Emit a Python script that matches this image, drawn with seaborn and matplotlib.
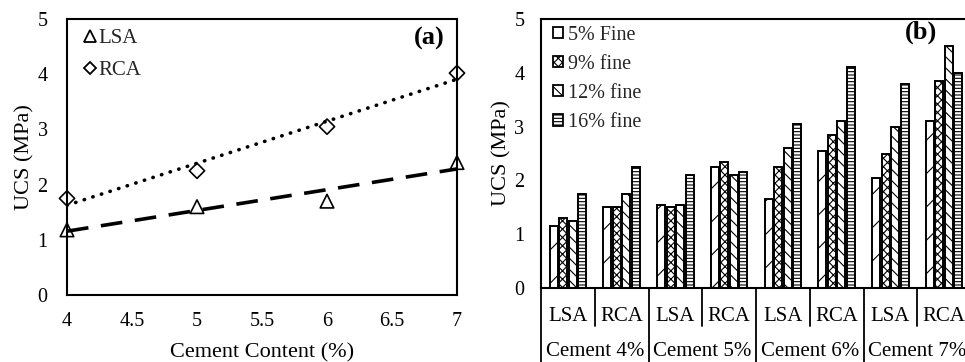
import numpy as np
import pandas as pd
import matplotlib
matplotlib.use("Agg")
import matplotlib.pyplot as plt
import seaborn as sns
from matplotlib.patches import Patch
from matplotlib.lines import Line2D
import matplotlib.transforms as mtransforms

# ---------------- data ----------------
cement_a = [4, 5, 6, 7]
lsa_ucs = [1.18, 1.60, 1.70, 2.40]
rca_ucs = [1.75, 2.25, 3.05, 4.02]

subgroups = ["LSA", "RCA", "LSA", "RCA", "LSA", "RCA", "LSA", "RCA"]
cement_groups = ["Cement 4%", "Cement 5%", "Cement 6%", "Cement 7%"]
fine_labels = ["5% Fine", "9% fine", "12% fine", "16% fine"]
fine5 = [1.15, 1.50, 1.55, 2.25, 1.65, 2.55, 2.05, 3.10]
fine9 = [1.30, 1.50, 1.50, 2.35, 2.25, 2.85, 2.50, 3.85]
fine12 = [1.25, 1.75, 1.55, 2.10, 2.60, 3.10, 3.00, 4.50]
fine16 = [1.75, 2.25, 2.10, 2.15, 3.05, 4.10, 3.80, 4.00]

sns.set_theme(style="white")
plt.rcParams["font.family"] = ["Liberation Serif", "DejaVu Serif"]
plt.rcParams["hatch.linewidth"] = 0.8

fig = plt.figure(figsize=(9.65, 3.62), dpi=100)
W, H = 965, 362

def rect(x0, y0, x1, y1):
    return [x0 / W, 1 - y1 / H, (x1 - x0) / W, (y1 - y0) / H]

# ---------------- panel (a) ----------------
axa = fig.add_axes(rect(67, 19, 457, 295))
xs = np.array(cement_a, dtype=float)
xx = np.array([4.0, 7.0])
for vals, ls, cap in [(lsa_ucs, (0, (6, 3.5)), "butt"),
                      (rca_ucs, (0, (0.1, 2.4)), "round")]:
    b, a = np.polyfit(xs, np.array(vals), 1)
    axa.plot(xx, a + b * xx, color="black", lw=2.6, ls=ls,
             dash_capstyle=cap, solid_capstyle=cap, zorder=2)

dfa = pd.DataFrame({"x": cement_a * 2, "y": lsa_ucs + rca_ucs,
                    "s": ["LSA"] * 4 + ["RCA"] * 4})
for name, mk, sz in [("LSA", "^", 95), ("RCA", "D", 60)]:
    sub = dfa[dfa.s == name]
    sns.scatterplot(data=sub, x="x", y="y", marker=mk, s=sz, facecolor="none",
                    edgecolor="black", linewidth=1.2, ax=axa, clip_on=False,
                    zorder=3, legend=False)
axa.set_xlim(4, 7)
axa.set_ylim(0, 5)
axa.set_xticks([4, 4.5, 5, 5.5, 6, 6.5, 7])
axa.set_xticklabels(["4", "4.5", "5", "5.5", "6", "6.5", "7"])
axa.set_yticks([0, 1, 2, 3, 4, 5])
axa.tick_params(labelsize=14.5, direction="in", length=4, width=1, colors="black")
axa.tick_params(axis="x", pad=12)
axa.tick_params(axis="y", pad=14)
axa.set_xlabel("Cement Content (%)", fontsize=16, color="black", labelpad=9)
axa.set_ylabel("UCS (MPa)", fontsize=16, color="black", labelpad=2)
for sp in axa.spines.values():
    sp.set_color("black")
    sp.set_linewidth(1.5)
axa.text(0.969, 0.93, "(a)", transform=axa.transAxes, ha="right", va="center",
         fontsize=19, fontweight="bold", color="black")
ha = [Line2D([], [], marker="^", ls="none", mfc="none", mec="black", ms=8, mew=1.3),
      Line2D([], [], marker="D", ls="none", mfc="none", mec="black", ms=6, mew=1.3)]
axa.legend(ha, ["LSA", "RCA"], loc="upper left", frameon=False, fontsize=15,
           handlelength=0.5, handletextpad=0.15, labelspacing=0.6,
           bbox_to_anchor=(0.01, 1.015), borderaxespad=0.25)

# ---------------- panel (b) ----------------
axb = fig.add_axes(rect(541, 19, 971, 288))
rows = []
for lab, vals in zip(fine_labels, [fine5, fine9, fine12, fine16]):
    for i, v in enumerate(vals):
        rows.append({"pos": i, "fine": lab, "UCS": v})
dfb = pd.DataFrame(rows)
sns.barplot(data=dfb, x="pos", y="UCS", hue="fine", hue_order=fine_labels,
            palette=["white"] * 4, edgecolor="black", linewidth=1.4,
            width=0.71, gap=0.15, ax=axb, legend=False)
hatches = ["/", "xxxx", "\\\\\\", "-----"]
for cont, h in zip(axb.containers, hatches):
    for bar in cont:
        bar.set_hatch(h)
axb.set_xlim(-0.5, 7.5)
axb.set_ylim(0, 5)
axb.set_yticks([0, 1, 2, 3, 4, 5])
axb.set_xticks(range(8))
axb.set_xticklabels(subgroups)
axb.tick_params(axis="x", length=0, pad=14, labelsize=15, colors="black")
axb.tick_params(axis="y", direction="in", length=4, width=1, labelsize=14.5,
                colors="black", pad=12)
axb.set_xlabel("")
axb.set_ylabel("UCS (MPa)", fontsize=16, color="black", labelpad=2)
for sp in axb.spines.values():
    sp.set_color("black")
    sp.set_linewidth(1.5)
trans = mtransforms.blended_transform_factory(axb.transData, axb.transAxes)
ph = 269.0
for xb in [0.5, 2.5, 4.5, 6.5]:
    axb.plot([xb, xb], [0, -38 / ph], color="black", lw=1.3, transform=trans,
             clip_on=False)
for xb in [-0.5, 1.5, 3.5, 5.5, 7.5]:
    axb.plot([xb, xb], [0, -76 / ph], color="black", lw=1.3, transform=trans,
             clip_on=False)
for k, lab in enumerate(cement_groups):
    axb.text(2 * k + 0.5, -63 / ph, lab, transform=trans, ha="center",
             va="center", fontsize=15, color="black")
axb.text(0.921, 0.95, "(b)", transform=axb.transAxes, ha="right", va="center",
         fontsize=19, fontweight="bold", color="black")
hb = [Patch(facecolor="white", edgecolor="black", hatch=h, lw=1.3) for h in hatches]
axb.legend(hb, fine_labels, loc="upper left", frameon=False, fontsize=14.5,
           handlelength=0.5, handleheight=0.5, handletextpad=0.25,
           labelspacing=0.5, bbox_to_anchor=(0.0, 1.02), borderaxespad=0.2)

fig.savefig("out.png", dpi=100)
